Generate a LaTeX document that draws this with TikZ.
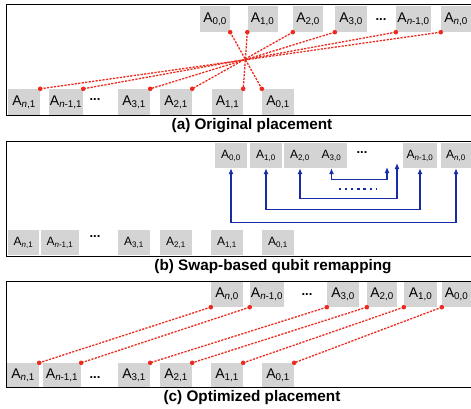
\documentclass[tikz,border=0pt]{standalone}
\usepackage{fontspec}
\setmainfont{Liberation Sans}
\usetikzlibrary{arrows.meta}
\definecolor{boxgray}{RGB}{212,212,212}
\definecolor{linkred}{RGB}{236,42,30}
\definecolor{swapblue}{RGB}{22,44,165}
\newcommand{\qb}[1]{A\textsubscript{#1}}
\tikzset{
  qbox/.style={fill=boxgray, minimum width=30pt, minimum height=26pt, inner sep=1pt, font=\fontsize{14}{16}\selectfont},
  qsmall/.style={qbox, minimum height=25pt, font=\fontsize{12}{14}\selectfont},
  link/.style={linkred, line width=1.3pt, dash pattern=on 2.2pt off 1.3pt},
  swap/.style={swapblue, line width=1.2pt, {Latex[length=6pt,width=5pt]}-{Latex[length=6pt,width=5pt]}},
  panel/.style={draw=black, line width=1pt},
  subcap/.style={font=\fontsize{15.3}{18}\selectfont\bfseries, anchor=base},
  more/.style={inner sep=0pt, font=\fontsize{13}{15}\selectfont\bfseries}
}

\begin{document}
\begin{tikzpicture}[x=1pt,y=-1pt]
  \useasboundingbox (0,0) rectangle (471,409);

  % frames
  \draw[panel] (6,5) rectangle (472,116);
  \draw[panel] (6,142) rectangle (472,256);
  \draw[panel] (6,281) rectangle (472,387);

  % (a) original placement
  \node[qbox] (a00) at (215,19) {\qb{0,0}};
  \node[qbox] (a10) at (262.5,19) {\qb{1,0}};
  \node[qbox] (a20) at (308,19) {\qb{2,0}};
  \node[qbox, minimum width=32pt] (a30) at (351,19) {\qb{3,0}};
  \node[more] (adots0) at (381,20) {...};
  \node[qbox, minimum width=35pt] (am0) at (413.5,19) {\qb{\textit{n}-1,0}};
  \node[qbox] (an0) at (456,19) {\qb{\textit{n},0}};

  \node[qbox, minimum width=32pt] (an1) at (24,102) {\qb{\textit{n},1}};
  \node[qbox, minimum width=34pt] (am1) at (66,102) {\qb{\textit{n}-1,1}};
  \node[more] (adots1) at (95,100) {...};
  \node[qbox, minimum width=32pt] (a31) at (134,102) {\qb{3,1}};
  \node[qbox, minimum width=32pt] (a21) at (176,102) {\qb{2,1}};
  \node[qbox, minimum width=31pt] (a11) at (227.5,102) {\qb{1,1}};
  \node[qbox, minimum width=32pt] (a01) at (278,102) {\qb{0,1}};

  \foreach \u/\v in {a00.south east/a01.north west, a10.south west/a11.north east,
      a20.south west/a21.north east, a30.south west/a31.north east,
      am0.south west/am1.north east, an0.south west/an1.north east}{
    \draw[link] (\u) -- (\v);
    \fill[linkred] (\u) circle (2.3pt) (\v) circle (2.3pt);
  }
  \node[subcap] (capa) at (252,129) {(a) Original placement};

  % (b) swap-based remapping
  \node[qsmall, minimum width=32pt] (b00) at (231,155.5) {\qb{0,0}};
  \node[qsmall, minimum width=32pt] (b10) at (266,155.5) {\qb{1,0}};
  \node[qsmall, minimum width=32pt] (b20) at (300,155.5) {\qb{2,0}};
  \node[qsmall, minimum width=31pt] (b30) at (331.5,155.5) {\qb{3,0}};
  \node[more] (bdots0) at (362,153) {...};
  \node[qsmall, minimum width=34pt] (bm0) at (420,155.5) {\qb{\textit{n}-1,0}};
  \node[qsmall] (bn0) at (456,155.5) {\qb{\textit{n},0}};

  \node[qsmall, minimum width=31pt] (bn1) at (23.5,242.5) {\qb{\textit{n},1}};
  \node[qsmall, minimum width=38pt] (bm1) at (60,242.5) {\qb{\textit{n}-1,1}};
  \node[more] (bdots1) at (95,237) {...};
  \node[qsmall, minimum width=32pt] (b31) at (134,242.5) {\qb{3,1}};
  \node[qsmall, minimum width=32pt] (b21) at (176,242.5) {\qb{2,1}};
  \node[qsmall, minimum width=32pt] (b11) at (227,242.5) {\qb{1,1}};
  \node[qsmall, minimum width=32pt] (b01) at (278,242.5) {\qb{0,1}};

  \coordinate (gapR) at (397,163);
  \coordinate (gapL) at (387,167);
  \coordinate (dotL) at (339,189);
  \coordinate (dotR) at (377,189);
  \draw[swap] (b00.south) -- ++(0,54) -| (bn0.south);
  \draw[swap] (b10.south) -- ++(0,41) -| (bm0.south);
  \draw[swap] (b20.south) -- ++(0,30) -| (gapR);
  \draw[swap] (b30.south) -- ++(0,11) -| (gapL);
  \draw[swapblue, line width=2.2pt, dash pattern=on 2.2pt off 3.9pt] (dotL) -- (dotR);
  \node[subcap] (capb) at (273,270) {(b) Swap-based qubit remapping};

  % (c) optimized placement
  \node[qbox, minimum height=25pt, minimum width=32pt] (cn0) at (227,294.5) {\qb{\textit{n},0}};
  \node[qbox, minimum height=25pt, minimum width=34pt] (cm0) at (267,294.5) {\qb{\textit{n}-1,0}};
  \node[more] (cdots0) at (307,295) {...};
  \node[qbox, minimum height=25pt, minimum width=32pt] (c30) at (343,294.5) {\qb{3,0}};
  \node[qbox, minimum height=25pt] (c20) at (382,294.5) {\qb{2,0}};
  \node[qbox, minimum height=25pt, minimum width=33pt] (c10) at (420.5,294.5) {\qb{1,0}};
  \node[qbox, minimum height=25pt, minimum width=29pt] (c00) at (456.5,294.5) {\qb{0,0}};

  \node[qbox, minimum height=24pt, minimum width=32pt] (cn1) at (23,375) {\qb{\textit{n},1}};
  \node[qbox, minimum height=24pt, minimum width=38pt] (cm1) at (62,375) {\qb{\textit{n}-1,1}};
  \node[more] (cdots1) at (95,378) {...};
  \node[qbox, minimum height=24pt, minimum width=32pt] (c31) at (134,375) {\qb{3,1}};
  \node[qbox, minimum height=24pt, minimum width=32pt] (c21) at (176,375) {\qb{2,1}};
  \node[qbox, minimum height=24pt, minimum width=32pt] (c11) at (227,375) {\qb{1,1}};
  \node[qbox, minimum height=24pt, minimum width=32pt] (c01) at (278,375) {\qb{0,1}};

  \foreach \u/\v in {cn0.south west/cn1.north east, cm0.south west/cm1.north east,
      c30.south west/c31.north east, c20.south west/c21.north east,
      c10.south west/c11.north east, c00.south west/c01.north east}{
    \draw[link] (\u) -- (\v);
    \fill[linkred] (\u) circle (2.3pt) (\v) circle (2.3pt);
  }
  \node[subcap] (capc) at (252,401) {(c) Optimized placement};
\end{tikzpicture}
\end{document}
